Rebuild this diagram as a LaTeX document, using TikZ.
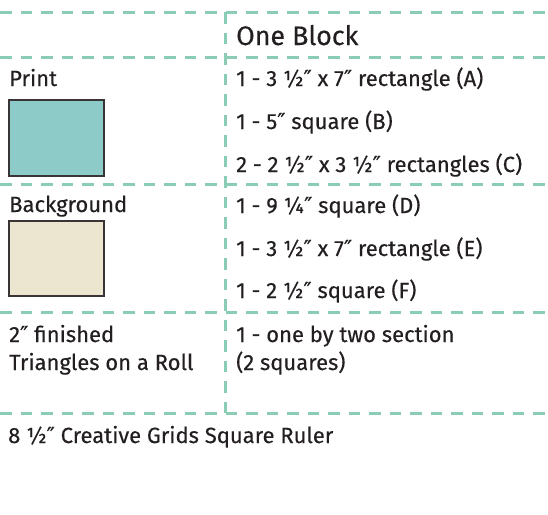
\documentclass[tikz,border=0pt]{standalone}
\usepackage{fontspec}
\setmainfont{Fira Sans}
\newfontfamily\txtfont[FakeBold=0.3]{Fira Sans}
\newfontfamily\symfont[FakeBold=0.3]{DejaVu Sans}
\newcommand\inch{{\symfont ″}}
\definecolor{gridline}{RGB}{138,204,180}
\definecolor{printfill}{RGB}{140,203,200}
\definecolor{bgfill}{RGB}{236,230,208}
\definecolor{txt}{RGB}{35,31,32}
\begin{document}
\begin{tikzpicture}[x=1pt,y=-1pt,
  grid/.style={draw=gridline,line width=3pt,dash pattern=on 11.5pt off 9pt},
  swatch/.style={draw=txt!90,line width=1.8pt},
  lbl/.style={anchor=base west,inner sep=0pt,text=txt,font=\txtfont\fontsize{22}{26}\selectfont},
  head/.style={anchor=base west,inner sep=0pt,text=txt,font=\txtfont\fontsize{26.8}{30}\selectfont}]
\useasboundingbox (0,0) rectangle (548,514);
% grid lines
\coordinate (h1l) at (0,12);   \coordinate (h1r) at (548,12);
\coordinate (h2l) at (0,57);   \coordinate (h2r) at (548,57);
\coordinate (h3l) at (0,184);  \coordinate (h3r) at (548,184);
\coordinate (h4l) at (0,312);  \coordinate (h4r) at (548,312);
\coordinate (h5l) at (0,413);  \coordinate (h5r) at (548,413);
\coordinate (vt) at (225,12);  \coordinate (vb) at (225,413);
\draw[grid] (h1l) -- (h1r);
\draw[grid] (h2l) -- (h2r);
\draw[grid] (h3l) -- (h3r);
\draw[grid] (h4l) -- (h4r);
\draw[grid] (h5l) -- (h5r);
\draw[grid] (vt) -- (vb);
% swatches
\draw[swatch,fill=printfill] (9,100) rectangle (104,176);
\draw[swatch,fill=bgfill] (9,221) rectangle (104,296);
% texts
\node[head] (oneblock) at (236,45) {One Block};
\node[lbl] (print) at (9,86) {Print};
\node[lbl] (a) at (236,86) {1 - 3 ½\inch{} x 7\inch{} rectangle (A)};
\node[lbl] (b) at (236,129) {1 - 5\inch{} square (B)};
\node[lbl] (c) at (236,172) {2 - 2 ½\inch{} x 3 ½\inch{} rectangles (C)};
\node[lbl] (bg) at (9,212) {Background};
\node[lbl] (d) at (236,213) {1 - 9 ¼\inch{} square (D)};
\node[lbl] (e) at (236,256) {1 - 3 ½\inch{} x 7\inch{} rectangle (E)};
\node[lbl] (f) at (236,298) {1 - 2 ½\inch{} square (F)};
\node[lbl] (fin) at (9,342) {2\inch{} finished};
\node[lbl] (tri) at (9,370) {Triangles on a Roll};
\node[lbl] (sec) at (236,342) {1 - one by two section};
\node[lbl] (sq) at (236,370) {(2 squares)};
\node[lbl] (ruler) at (8,443) {8 ½\inch{} Creative Grids Square Ruler};
\end{tikzpicture}
\end{document}
